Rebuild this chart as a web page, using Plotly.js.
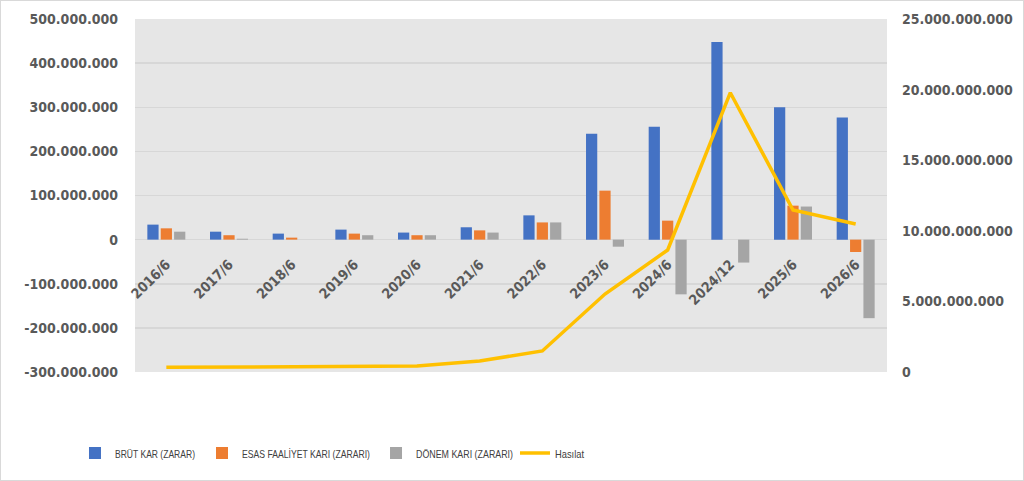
<!DOCTYPE html>
<html>
<head>
<meta charset="utf-8">
<script src="https://cdn.plot.ly/plotly-3.0.1.min.js"></script>
<style>
  html, body { margin: 0; padding: 0; background: #fff; }
  #chart { width: 1024px; height: 481px; box-sizing: border-box; border: 1px solid #d9d9d9; }
</style>
</head>
<body>
<div id="chart"></div>
<script>
var donemler = ['2016/6', '2017/6', '2018/6', '2019/6', '2020/6', '2021/6', '2022/6',
                '2023/6', '2024/6', '2024/12', '2025/6', '2026/6'];

var brutKar      = [34e6, 18e6, 13.6e6, 22.7e6, 16e6, 28e6, 55e6, 240e6, 256e6, 448e6, 300e6, 277e6];
var esasFaaliyet = [25.6e6, 10e6, 4.5e6, 13.6e6, 10e6, 21e6, 39e6, 111e6, 43e6, 0, 77e6, -28e6];
var donemKari    = [18e6, 2e6, 0, 10e6, 10e6, 16e6, 39e6, -16e6, -124e6, -52e6, 75e6, -178e6];
var hasilat      = [0.33e9, 0.35e9, 0.38e9, 0.4e9, 0.42e9, 0.78e9, 1.49e9, 5.52e9, 8.64e9, 19.78e9, 11.47e9, 10.48e9];

// eksen tick degerleri
var solTicks = [-300e6, -200e6, -100e6, 0, 100e6, 200e6, 300e6, 400e6, 500e6];
var sagTicks = [0, 5e9, 10e9, 15e9, 20e9, 25e9];

var fmt = function(v){ return v.toLocaleString('de-DE'); };

var tickFont = {family: 'DejaVu Sans Condensed, DejaVu Sans', size: 14, color: '#595959', weight: 'bold'};
var legendFont = {family: 'Liberation Sans, Arial', size: 11.5, color: '#404040'};

var data = [
  {type: 'bar', name: 'BRÜT KAR (ZARAR)', x: donemler, y: brutKar, legend: 'legend',
   marker: {color: '#4472c4', line: {width: 0}}},
  {type: 'bar', name: 'ESAS FAALİYET KARI (ZARARI)', x: donemler, y: esasFaaliyet, legend: 'legend2',
   marker: {color: '#ed7d31', line: {width: 0}}},
  {type: 'bar', name: 'DÖNEM KARI (ZARARI)', x: donemler, y: donemKari, legend: 'legend3',
   marker: {color: '#a5a5a5', line: {width: 0}}},
  {type: 'scatter', mode: 'lines', name: 'Hasılat', x: donemler, y: hasilat, yaxis: 'y2', legend: 'legend4',
   line: {color: '#ffc000', width: 3.5}}
];

var leg = function(x){
  return {orientation: 'h', x: x, y: -0.2295, xanchor: 'left', yanchor: 'middle',
          font: legendFont, bgcolor: 'rgba(0,0,0,0)'};
};

// legend yazilarinin hedef genislikleri (px)
var legendTextWidth = {'BRÜT KAR (ZARAR)': 80, 'ESAS FAALİYET KARI (ZARARI)': 128,
                       'DÖNEM KARI (ZARARI)': 97, 'Hasılat': 29};

var layout = {
  width: 1022, height: 479,
  margin: {l: 134, r: 136, t: 18, b: 108},
  paper_bgcolor: '#ffffff',
  plot_bgcolor: '#e6e6e6',
  barmode: 'group',
  bargap: 0.36,
  bargroupgap: 0.16,
  showlegend: true,
  legend: leg(-0.0798),
  legend2: leg(0.0891),
  legend3: leg(0.3205),
  legend4: leg(0.5053),
  xaxis: {
    type: 'category',
    anchor: 'free', position: 0.375,
    tickangle: -45,
    ticks: '', showgrid: false, showline: false, zeroline: false,
    ticklabelstandoff: 13,
    tickfont: tickFont
  },
  yaxis: {
    range: [-300e6, 500e6],
    tickvals: solTicks, ticktext: solTicks.map(fmt),
    gridcolor: '#d7d7d7', gridwidth: 1.5,
    zeroline: true, zerolinecolor: '#d7d7d7', zerolinewidth: 1.5,
    ticklabelstandoff: 16,
    tickfont: tickFont,
    showline: false
  },
  yaxis2: {
    overlaying: 'y', side: 'right',
    range: [0, 25e9],
    tickvals: sagTicks, ticktext: sagTicks.map(fmt),
    showgrid: false, zeroline: false,
    ticklabelstandoff: 14,
    tickfont: tickFont,
    showline: false
  }
};

var config = {displayModeBar: false, staticPlot: true};

// Excel'deki dar yazi tipine yaklasmak icin legend yazilarini sikistir
var legendSikistir = function(){
  document.querySelectorAll('#chart text').forEach(function(t){
    var w = legendTextWidth[t.textContent.trim()];
    if (w && t.getAttribute('textLength') != w) {
      t.setAttribute('textLength', w);
      t.setAttribute('lengthAdjust', 'spacingAndGlyphs');
    }
  });
};

var gd = document.getElementById('chart');
Plotly.newPlot(gd, data, layout, config).then(function(){
  legendSikistir();
  gd.on('plotly_afterplot', legendSikistir);
  new MutationObserver(legendSikistir).observe(gd, {childList: true, subtree: true});
});
</script>
</body>
</html>
